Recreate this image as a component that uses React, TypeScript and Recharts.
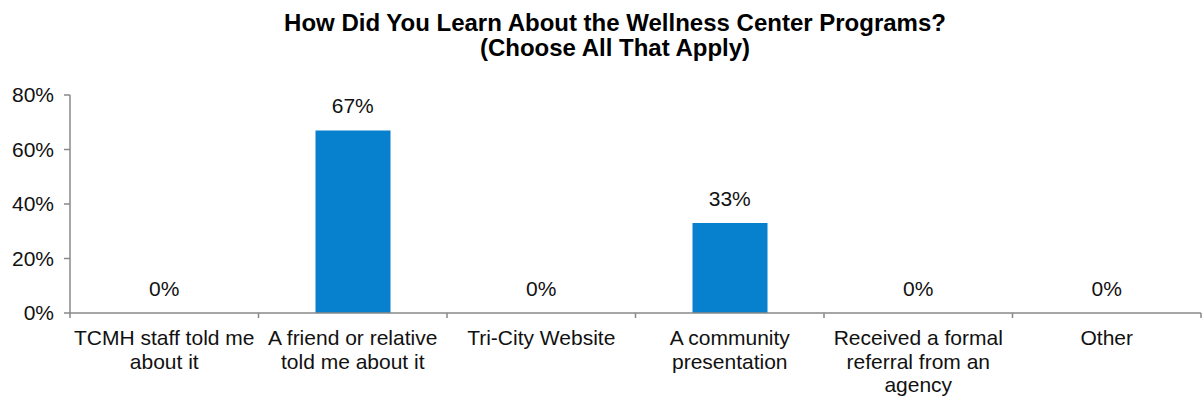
import React from 'react';
import { ComposedChart, Bar, Line, XAxis, YAxis, LabelList } from 'recharts';

const categories = [
  'TCMH staff told me\nabout it',
  'A friend or relative\ntold me about it',
  'Tri-City Website',
  'A community\npresentation',
  'Received a formal\nreferral from an\nagency',
  'Other',
];
const values = [0, 0.67, 0, 0.33, 0, 0];
const yTicks = [0, 0.2, 0.4, 0.6, 0.8];
const titleLines = ['How Did You Learn About the Wellness Center Programs?', '(Choose All That Apply)'];

const data = categories.map((c, i) => ({ name: c, value: values[i] }));

const W = 1204;
const H = 402;
const MARGIN = { top: 95, right: 3, bottom: 9, left: 0 };
const Y_W = 70;
const X_H = 80;
const FONT = '"Liberation Sans", Arial, Helvetica, sans-serif';
const AXIS = '#898989';
const TXT = '#111';
const band = (W - MARGIN.left - MARGIN.right - Y_W) / categories.length;

const pct = (v: number) => `${Math.round(v * 100)}%`;

const XTick = (props: any) => {
  const { x, y, payload, index } = props;
  const lines = String(payload.value).split('\n');
  const axisY = y - 6;
  return (
    <g>
      <line x1={x - band / 2} x2={x - band / 2} y1={axisY} y2={axisY + 5} stroke={AXIS} strokeWidth={1.5} />
      {index === categories.length - 1 && (
        <line x1={x + band / 2} x2={x + band / 2} y1={axisY} y2={axisY + 5} stroke={AXIS} strokeWidth={1.5} />
      )}
      <text x={x} y={y + 26} textAnchor="middle" fontFamily={FONT} fontSize={21} fill={TXT}>
        {lines.map((l, i) => (
          <tspan key={i} x={x} dy={i === 0 ? 0 : 23.5}>
            {l}
          </tspan>
        ))}
      </text>
    </g>
  );
};

export default function App() {
  return (
    <div style={{ position: 'absolute', left: 0, top: 0, width: W, height: H, background: '#fff' }}>
      <div
        style={{
          position: 'absolute',
          left: 0,
          top: 10,
          width: 1230,
          textAlign: 'center',
          fontFamily: FONT,
          fontWeight: 'bold',
          fontSize: 24,
          lineHeight: '25px',
          color: '#000',
        }}
      >
        {titleLines.map((t, i) => (
          <div key={i}>{t}</div>
        ))}
      </div>
      <ComposedChart width={W} height={H} data={data} margin={MARGIN} barCategoryGap={0}>
        <YAxis
          width={Y_W}
          domain={[0, 0.8]}
          ticks={yTicks}
          interval={0}
          tickFormatter={pct}
          tickSize={6}
          tickMargin={10}
          axisLine={{ stroke: AXIS, strokeWidth: 1.5 }}
          tickLine={{ stroke: AXIS, strokeWidth: 1.5 }}
          tick={{ fontFamily: FONT, fontSize: 21, fill: TXT }}
        />
        <XAxis
          dataKey="name"
          height={X_H}
          interval={0}
          tickSize={6}
          tickMargin={0}
          tickLine={false}
          axisLine={{ stroke: AXIS, strokeWidth: 1.5 }}
          tick={<XTick />}
        />
        <Bar dataKey="value" fill="#0780CE" barSize={75} isAnimationActive={false} />
        <Line
          dataKey="value"
          stroke="none"
          dot={false}
          activeDot={false}
          legendType="none"
          isAnimationActive={false}
        >
          <LabelList
            dataKey="value"
            position="top"
            offset={17}
            formatter={(v: any) => pct(Number(v))}
            style={{ fontFamily: FONT, fontSize: 21, fill: TXT }}
          />
        </Line>
      </ComposedChart>
    </div>
  );
}
